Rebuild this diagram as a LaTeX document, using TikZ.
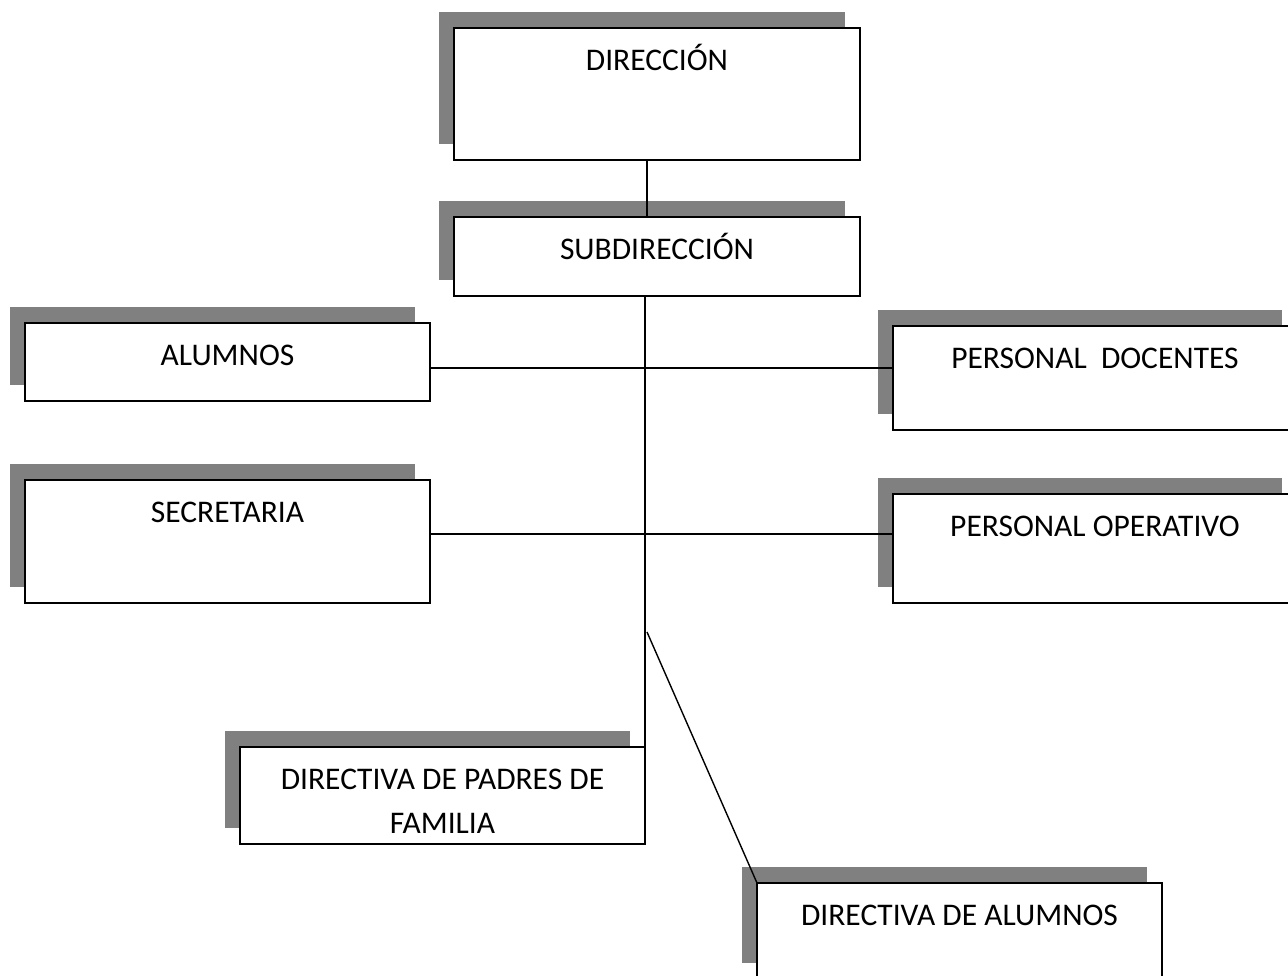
\documentclass[tikz,border=0pt]{standalone}
\usepackage{fontspec}
\setmainfont{Carlito}
\usetikzlibrary{shadows,calc}
\tikzset{
  orgbox/.style={draw, line width=1.6pt, fill=white, anchor=north west, inner sep=0pt, outer sep=0pt,
    drop shadow={shadow xshift=-15pt, shadow yshift=16pt, fill=gray, opacity=1}},
  lbl/.style={anchor=base, inner sep=0pt, font=\fontsize{31.5}{44}\selectfont},
  conn/.style={line width=1.4pt}
}
\begin{document}
\begin{tikzpicture}[x=1pt,y=-1pt]
\path[use as bounding box, fill=white] (0,0) rectangle (1288,975);
\clip (0,0) rectangle (1288,975);
% boxes
\node[orgbox, minimum width=406pt, minimum height=132pt] (dir) at (454,28) {};
\node[orgbox, minimum width=406pt, minimum height=79pt] (sub) at (454,217) {};
\node[orgbox, minimum width=405pt, minimum height=78pt] (alum) at (25,323) {};
\node[orgbox, minimum width=404pt, minimum height=104pt] (doc) at (893,326) {};
\node[orgbox, minimum width=405pt, minimum height=123pt] (sec) at (25,480) {};
\node[orgbox, minimum width=404pt, minimum height=109pt] (oper) at (893,494) {};
\node[orgbox, minimum width=405pt, minimum height=97pt] (padres) at (240,747) {};
\node[orgbox, minimum width=405pt, minimum height=96pt] (dalum) at (757,883) {};
% texts
\node[lbl] (dirT) at ([yshift=-42pt]dir.north) {DIRECCIÓN};
\node[lbl] (subT) at ([yshift=-42pt]sub.north) {SUBDIRECCIÓN};
\node[lbl] (alumT) at ([yshift=-42pt]alum.north) {ALUMNOS};
\node[lbl] (docT) at ([yshift=-42pt]doc.north) {PERSONAL\ \ DOCENTES};
\node[lbl] (secT) at ([yshift=-42pt]sec.north) {SECRETARIA};
\node[lbl] (operT) at ([yshift=-42pt]oper.north) {PERSONAL OPERATIVO};
\node[lbl, anchor=north, align=center] (padresT) at ([yshift=-22pt]padres.north) {DIRECTIVA DE PADRES DE\\FAMILIA};
\node[lbl] (dalumT) at ([yshift=-42pt]dalum.north) {DIRECTIVA DE ALUMNOS};
% connectors
\draw[conn] ([xshift=-10pt]dir.south) -- ([xshift=-10pt]sub.north);
\draw[conn] (sub.south -| padres.north east) -- (padres.north east);
\draw[conn] ([yshift=-45pt]alum.north east) -- ([yshift=-45pt]alum.north east -| doc.west);
\draw[conn] ([yshift=-54pt]sec.north east) -- ([yshift=-54pt]sec.north east -| oper.west);
\coordinate (br) at (647,632);
\draw[conn] (br) -- (dalum.north west);
\end{tikzpicture}
\end{document}
